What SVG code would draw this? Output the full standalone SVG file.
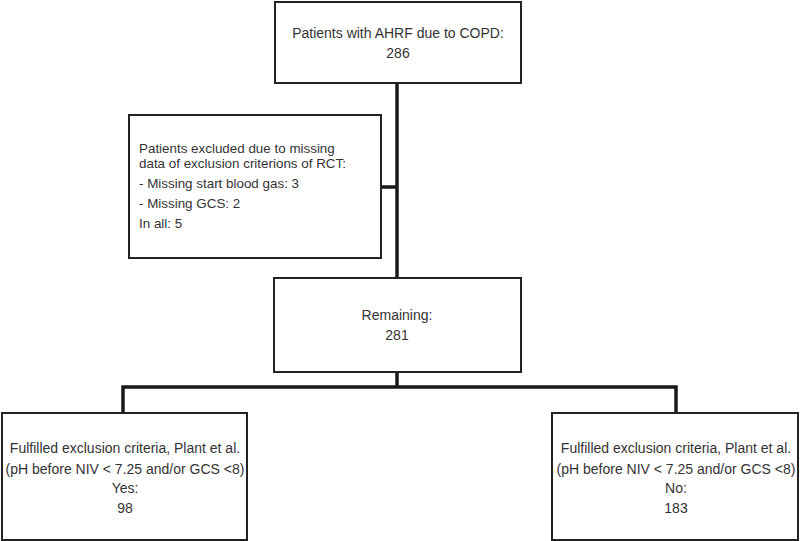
<svg xmlns="http://www.w3.org/2000/svg" width="800" height="541" viewBox="0 0 800 541">
<style>
.box{fill:#fff;stroke:#222;stroke-width:2}
.c{fill:none;stroke:#1a1a1a;stroke-width:3.5}
text{font-family:"Liberation Sans",Arial,sans-serif;font-size:14px;fill:#333}
.m{text-anchor:middle}
.s{font-size:13.4px}
</style>
<rect width="800" height="541" fill="#fff"/>
<g id="connectors">
<line class="c" x1="397" y1="83" x2="397" y2="278"/>
<line class="c" x1="381" y1="187" x2="397" y2="187"/>
<line class="c" x1="397" y1="372" x2="397" y2="387"/>
<polyline class="c" points="123,413 123,387 676,387 676,413"/>
</g>
<g id="n1">
<rect class="box" x="275" y="2" width="246" height="81"/>
<text class="m" x="398" y="38">Patients with AHRF due to COPD:</text>
<text class="m" x="398" y="58">286</text>
</g>
<g id="n2">
<rect class="box" x="129" y="115" width="252" height="143"/>
<text class="s" x="139" y="153">Patients excluded due to missing</text>
<text class="s" x="139" y="168">data of exclusion criterions of RCT:</text>
<text class="s" x="139" y="188">- Missing start blood gas: 3</text>
<text class="s" x="139" y="208">- Missing GCS: 2</text>
<text class="s" x="139" y="228">In all: 5</text>
</g>
<g id="n3">
<rect class="box" x="274" y="278" width="247" height="94"/>
<text class="m" x="397" y="320">Remaining:</text>
<text class="m" x="397" y="340">281</text>
</g>
<g id="n4">
<rect class="box" x="2" y="413" width="245" height="127"/>
<text class="m" x="125" y="453">Fulfilled exclusion criteria, Plant et al.</text>
<text class="m" x="125" y="474">(pH before NIV &lt; 7.25 and/or GCS &lt;8)</text>
<text class="m" x="125" y="493">Yes:</text>
<text class="m" x="125" y="513">98</text>
</g>
<g id="n5">
<rect class="box" x="552" y="413" width="246" height="127"/>
<text class="m" x="676" y="453">Fulfilled exclusion criteria, Plant et al.</text>
<text class="m" x="676" y="474">(pH before NIV &lt; 7.25 and/or GCS &lt;8)</text>
<text class="m" x="676" y="493">No:</text>
<text class="m" x="676" y="513">183</text>
</g>
</svg>
